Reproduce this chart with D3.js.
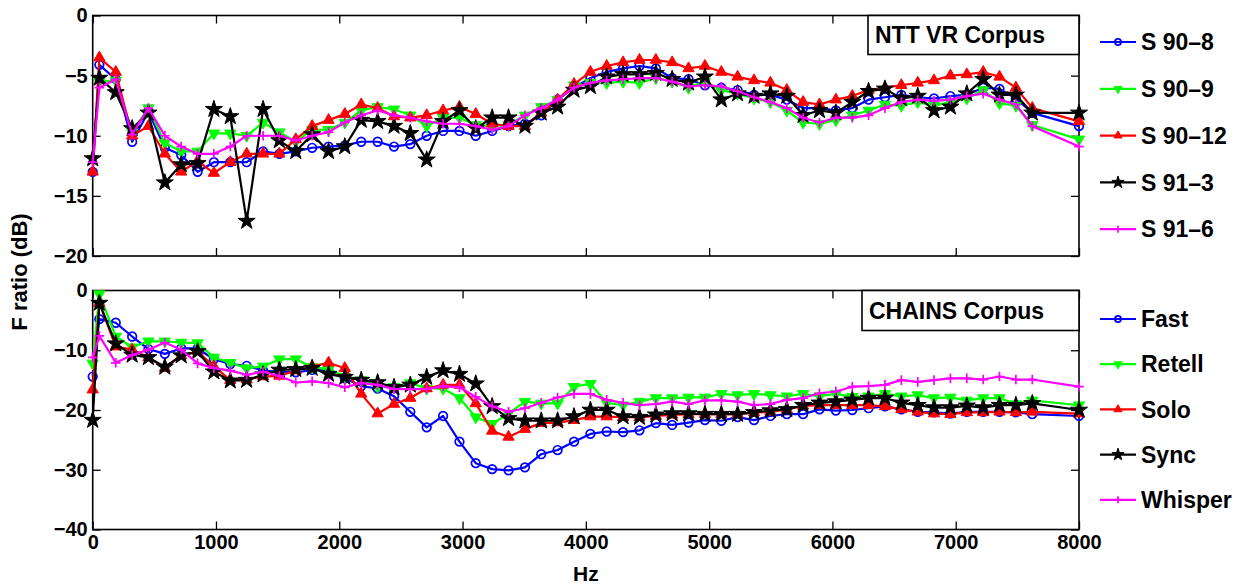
<!DOCTYPE html>
<html>
<head>
<meta charset="utf-8">
<script src="https://cdn.jsdelivr.net/npm/d3@7"></script>
<style>
  body { margin: 0; background: #fff; }
  svg { font-family: "Liberation Sans", Arial, sans-serif; font-weight: bold; }
</style>
</head>
<body>
<svg id="graph" width="1249" height="585"></svg>
<script>
// frequencies (Hz) shared by every curve
var freqs = [0, 54, 187, 320, 452, 585, 718, 851, 983, 1116, 1249, 1382, 1514, 1647, 1780, 1913, 2045, 2178, 2311, 2444,
  2576, 2709, 2842, 2975, 3107, 3240, 3373, 3506, 3638, 3771, 3904, 4037, 4169, 4302, 4435, 4568, 4700, 4833, 4966, 5099,
  5231, 5364, 5497, 5630, 5762, 5895, 6028, 6161, 6293, 6426, 6559, 6692, 6824, 6957, 7090, 7223, 7355, 7488, 7621, 8000];

// NTT VR corpus
var s90_8 = [-13.0, -4.1, -5.3, -10.5, -8.0, -11.0, -11.6, -13.0, -12.2, -12.2, -12.2, -11.3, -11.5, -11.3, -11.0, -10.9, -10.8, -10.5, -10.5, -10.9, -10.7, -10.0,
  -9.6, -9.6, -10.0, -9.6, -9.2, -9.0, -8.3, -7.0, -6.0, -5.2, -4.7, -4.4, -4.2, -4.4, -5.2, -5.3, -5.8, -6.0, -6.2,
  -6.6, -6.6, -7.0, -7.7, -7.7, -7.9, -7.7, -7.0, -6.8, -6.6, -6.8, -6.9, -6.7, -6.6, -6.0, -6.1, -6.9, -8.1, -9.2];
var s90_9 = [-11.9, -5.5, -5.4, -9.7, -7.7, -10.6, -11.3, -11.3, -9.8, -9.8, -10.0, -8.9, -9.7, -10.5, -9.5, -9.5, -8.9, -7.9, -7.6, -7.8, -8.3, -9.2,
  -8.5, -8.5, -9.1, -9.2, -9.1, -8.3, -7.6, -7.0, -5.8, -5.6, -5.6, -5.5, -5.6, -5.2, -5.5, -6.0, -5.5, -6.2, -6.5,
  -6.9, -7.2, -7.9, -8.9, -9.0, -8.7, -8.3, -7.9, -7.4, -7.5, -7.2, -7.5, -7.2, -6.9, -6.2, -7.3, -7.5, -9.1, -10.3];
var s90_12 = [-13.0, -3.5, -4.7, -10.0, -9.2, -11.5, -13.0, -12.1, -13.1, -12.2, -11.5, -11.5, -11.5, -10.3, -9.2, -8.7, -8.2, -7.4, -7.7, -8.4, -8.5, -8.3,
  -7.9, -7.6, -8.2, -9.0, -9.2, -9.2, -8.1, -7.0, -5.7, -4.7, -4.2, -3.9, -3.7, -3.7, -3.9, -4.4, -4.2, -4.7, -5.1,
  -5.4, -5.6, -6.2, -7.2, -7.4, -7.0, -6.7, -6.2, -6.0, -5.8, -5.6, -5.4, -5.0, -4.9, -4.7, -5.1, -6.0, -7.7, -8.8];
var s91_3 = [-11.9, -5.2, -6.4, -9.4, -8.1, -13.9, -12.4, -12.3, -7.8, -8.4, -17.1, -7.8, -10.4, -11.3, -9.9, -11.3, -10.9, -8.7, -8.8, -9.2, -9.8, -12.0,
  -8.8, -7.9, -9.4, -8.5, -8.5, -9.2, -8.1, -7.6, -6.2, -5.9, -5.1, -4.9, -4.9, -4.8, -5.3, -5.6, -5.1, -7.0, -6.5,
  -6.7, -6.5, -6.7, -8.3, -7.9, -8.1, -7.2, -6.3, -6.1, -6.9, -6.7, -7.9, -7.6, -6.5, -5.3, -6.6, -6.6, -8.1, -8.1];
var s91_6 = [-12.2, -6.0, -5.3, -9.9, -7.7, -10.0, -10.9, -11.5, -11.5, -10.9, -10.0, -10.0, -10.0, -10.4, -10.0, -9.7, -8.9, -8.3, -7.9, -8.3, -8.5, -8.8,
  -9.0, -9.0, -9.2, -9.5, -9.2, -8.3, -7.7, -7.0, -6.0, -5.6, -5.4, -5.3, -5.2, -5.2, -5.5, -5.9, -5.8, -5.9, -6.3,
  -6.8, -7.2, -7.7, -8.5, -8.9, -8.5, -8.5, -8.3, -7.7, -7.2, -7.0, -7.1, -7.0, -6.7, -6.5, -7.0, -7.4, -9.2, -10.9];

// CHAINS corpus
var fast = [-14.4, -4.8, -5.4, -7.7, -9.8, -10.6, -9.7, -9.7, -11.5, -12.3, -12.6, -13.4, -13.6, -13.7, -13.3, -13.4, -14.7, -16.0, -16.4, -17.7, -20.3, -22.9,
  -21.0, -25.3, -28.9, -29.9, -30.1, -29.6, -27.4, -26.7, -25.3, -24.0, -23.6, -23.7, -23.4, -22.2, -22.5, -22.1, -21.7, -21.8, -21.2,
  -21.7, -21.0, -20.7, -20.7, -19.9, -20.1, -20.0, -19.7, -19.4, -19.9, -20.3, -20.4, -20.6, -20.3, -20.3, -20.3, -20.4, -20.7, -21.0];
var retell = [-12.2, -0.6, -7.7, -9.5, -8.5, -8.5, -8.7, -8.8, -11.2, -12.1, -13.0, -12.7, -11.5, -11.5, -12.8, -13.2, -14.4, -15.0, -16.1, -16.1, -15.5, -16.4,
  -16.4, -18.0, -21.2, -22.3, -20.6, -18.6, -18.9, -18.9, -16.1, -15.6, -18.8, -19.2, -18.6, -18.0, -18.0, -17.9, -17.9, -17.3, -17.5,
  -17.3, -17.5, -17.7, -17.3, -17.7, -17.3, -17.8, -17.7, -17.3, -17.7, -17.5, -18.0, -17.9, -18.4, -18.0, -18.0, -19.0, -18.4, -19.2];
var solo = [-16.6, -2.1, -9.4, -9.9, -11.2, -13.0, -10.9, -10.2, -12.7, -15.0, -14.9, -14.4, -14.3, -13.4, -12.7, -12.1, -13.0, -17.3, -20.6, -19.0, -18.0, -16.4,
  -15.8, -15.8, -18.9, -23.5, -24.5, -23.2, -22.2, -22.1, -21.7, -21.1, -21.1, -21.2, -21.2, -21.0, -20.8, -20.7, -20.7, -20.7, -20.7,
  -20.4, -20.3, -19.9, -19.3, -19.2, -19.2, -19.2, -19.2, -19.4, -19.9, -20.3, -20.6, -20.7, -20.4, -20.4, -20.3, -20.4, -20.3, -20.6];
var sync = [-21.7, -2.1, -8.9, -10.8, -11.2, -12.8, -10.9, -10.2, -13.6, -15.1, -15.0, -14.1, -13.3, -13.2, -13.0, -14.0, -14.5, -15.0, -15.4, -16.2, -15.8, -14.5,
  -13.4, -14.0, -15.6, -19.4, -21.4, -21.8, -21.8, -21.8, -21.1, -20.0, -20.0, -21.1, -21.2, -20.8, -20.6, -20.6, -20.7, -20.7, -20.7,
  -20.4, -20.1, -19.9, -19.2, -18.8, -18.6, -18.3, -18.0, -18.0, -18.8, -19.2, -19.6, -19.6, -19.3, -19.6, -19.2, -19.2, -18.9, -20.0];
var whisper = [-11.2, -7.6, -12.1, -10.8, -9.9, -8.7, -9.9, -12.2, -13.0, -13.4, -14.1, -13.6, -14.3, -15.4, -15.2, -15.5, -16.2, -15.5, -15.8, -16.5, -16.5, -16.5,
  -16.0, -16.2, -17.8, -19.4, -20.3, -19.7, -18.8, -17.9, -17.3, -17.3, -18.3, -18.8, -19.2, -19.0, -18.6, -19.0, -18.4, -18.4, -18.6,
  -19.2, -19.0, -18.3, -18.0, -17.2, -16.9, -16.1, -16.0, -15.8, -15.0, -15.3, -15.0, -14.7, -14.7, -14.9, -14.4, -14.9, -14.9, -16.1];

var namesTop = ["S 90\u20138", "S 90\u20139", "S 90\u201312", "S 91\u20133", "S 91\u20136"];
var namesBottom = ["Fast", "Retell", "Solo", "Sync", "Whisper"];
var colors = ["#0000ff", "#00ff00", "#ff0000", "#000000", "#ff00ff"];
var markers = ["circle", "tridown", "triup", "star", "plus"];

var xTicks = [0, 1000, 2000, 3000, 4000, 5000, 6000, 7000, 8000];
var yTicksTop = [-20, -15, -10, -5, 0];
var yTicksBottom = [-40, -30, -20, -10, 0];

var svg = d3.select("#graph");
svg.append("rect").attr("width", 1249).attr("height", 585).attr("fill", "#fff");

var left = 92.7, right = 1079;
var x = d3.scaleLinear().domain([0, 8000]).range([left, right]);

function drawMarker(g, kind, color, s) {
    if (kind == "circle") {
        g.append("circle").attr("r", 4.3 * s).attr("fill", "none")
            .attr("stroke", color).attr("stroke-width", 1.7);
    } else if (kind == "plus") {
        var h = 4.8 * s;
        g.append("path").attr("d", "M" + (-h) + ",0H" + h + "M0," + (-h) + "V" + h)
            .attr("stroke", color).attr("stroke-width", 1.7);
    } else {
        var type = kind == "star" ? d3.symbolStar : d3.symbolTriangle;
        var size = kind == "star" ? 90 : 55;
        g.append("path").attr("d", d3.symbol(type, size * s * s)())
            .attr("transform", kind == "tridown" ? "rotate(180)" : null)
            .attr("fill", color).attr("stroke", color).attr("stroke-width", 1);
    }
}

function panel(top, bottom, yDomain, yTicks, series, names, title, titleBox, legendY, legendStep, showX) {
    var y = d3.scaleLinear().domain(yDomain).range([bottom, top]);
    var g = svg.append("g");

    // ticks pointing inward, all four sides
    g.append("g").attr("transform", "translate(0," + bottom + ")")
        .call(d3.axisBottom(x).tickValues(xTicks).tickSizeInner(-8).tickSizeOuter(0).tickPadding(5)
            .tickFormat(showX ? d3.format("d") : ""));
    g.append("g").attr("transform", "translate(0," + top + ")")
        .call(d3.axisTop(x).tickValues(xTicks).tickSizeInner(-8).tickSizeOuter(0).tickFormat(""));
    g.append("g").attr("transform", "translate(" + left + ",0)")
        .call(d3.axisLeft(y).tickValues(yTicks).tickSizeInner(-8).tickSizeOuter(0).tickPadding(5));
    g.append("g").attr("transform", "translate(" + right + ",0)")
        .call(d3.axisRight(y).tickValues(yTicks).tickSizeInner(-8).tickSizeOuter(0).tickFormat(""));
    g.selectAll(".tick line").attr("stroke", "#000").attr("stroke-width", 1.3);
    g.selectAll(".domain").remove();
    g.selectAll(".tick text").attr("font-size", 20).attr("font-weight", "bold")
        .attr("font-family", "'Liberation Sans', Arial, sans-serif").attr("fill", "#000");
    g.append("rect").attr("x", left).attr("y", top).attr("width", right - left).attr("height", bottom - top)
        .attr("fill", "none").attr("stroke", "#000").attr("stroke-width", 1.6);

    var line = d3.line().x((d, i) => x(freqs[i])).y(d => y(d));
    series.forEach(function (vals, k) {
        g.append("path").datum(vals).attr("d", line).attr("fill", "none")
            .attr("stroke", colors[k]).attr("stroke-width", 2.2).attr("stroke-linejoin", "round");
        vals.forEach(function (v, i) {
            var m = g.append("g").attr("transform", "translate(" + x(freqs[i]) + "," + y(v) + ")");
            drawMarker(m, markers[k], colors[k], 1);
        });
    });

    // title box
    g.append("rect").attr("x", titleBox[0]).attr("y", top).attr("width", right - titleBox[0]).attr("height", titleBox[1])
        .attr("fill", "#fff").attr("stroke", "#000").attr("stroke-width", 1.6);
    g.append("text").attr("x", titleBox[0] + 7).attr("y", top + titleBox[1] / 2).attr("dy", "0.36em")
        .attr("font-size", 23).text(title);

    // legend outside on the right
    names.forEach(function (n, k) {
        var ly = legendY + k * legendStep;
        var lg = svg.append("g").attr("transform", "translate(1100," + ly + ")");
        lg.append("line").attr("x1", 0).attr("x2", 36).attr("stroke", colors[k]).attr("stroke-width", 2.2);
        var m = lg.append("g").attr("transform", "translate(18,0)");
        drawMarker(m, markers[k], colors[k], 0.72);
        lg.append("text").attr("x", 41).attr("dy", "0.36em").attr("font-size", 23).text(n);
    });
}

panel(15.5, 256, [-20, 0], yTicksTop, [s90_8, s90_9, s90_12, s91_3, s91_6], namesTop,
    "NTT VR Corpus", [868, 39], 42, 46.8, false);
panel(290.5, 529.5, [-40, 0], yTicksBottom, [fast, retell, solo, sync, whisper], namesBottom,
    "CHAINS Corpus", [862, 40], 319, 45.2, true);

svg.append("text").attr("transform", "translate(27,272) rotate(-90)").attr("text-anchor", "middle")
    .attr("font-size", 22).text("F ratio (dB)");
svg.append("text").attr("x", (left + right) / 2).attr("y", 581).attr("text-anchor", "middle")
    .attr("font-size", 21).text("Hz");
</script>
</body>
</html>
